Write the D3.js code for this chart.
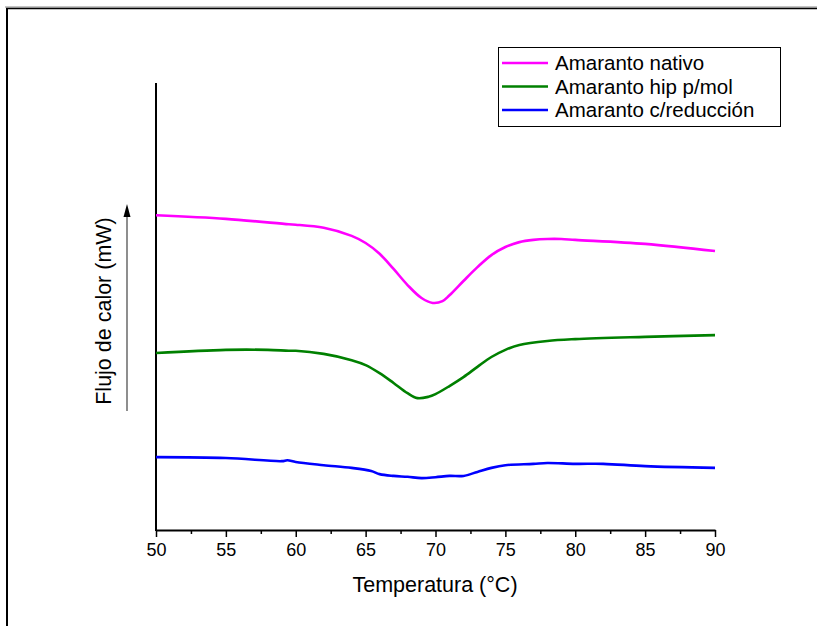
<!DOCTYPE html>
<html>
<head>
<meta charset="utf-8">
<script src="https://cdn.jsdelivr.net/npm/d3@7"></script>
<style>
    body { margin: 0; background: #fff; }
    svg { display: block; font-family: "Liberation Sans", Arial, sans-serif; }
</style>
</head>
<body>
<svg id="chart" width="817" height="626"></svg>
<script>
// DSC curves, heat flow in arbitrary units (offset per sample)
const temps = [50, 55, 59.5, 60, 62, 64, 65, 66, 67, 68, 69, 69.8, 70.5, 71, 72, 73, 74, 75, 76, 77, 78, 79, 80, 85, 90];
const nativo = [7.04, 6.96, 6.84, 6.83, 6.76, 6.58, 6.42, 6.18, 5.84, 5.48, 5.19, 5.08, 5.12, 5.25, 5.57, 5.88, 6.15, 6.33, 6.44, 6.49, 6.51, 6.51, 6.49, 6.40, 6.24];

const tempsHip = [50, 55, 58, 59.5, 60, 62, 64, 65, 66, 67, 68, 68.7, 69.5, 70, 71, 72, 73, 74, 75, 76, 78, 80, 85, 90];
const hipMol = [3.96, 4.03, 4.03, 4.01, 4.01, 3.94, 3.80, 3.69, 3.51, 3.29, 3.06, 2.95, 2.98, 3.04, 3.22, 3.42, 3.65, 3.87, 4.03, 4.14, 4.23, 4.27, 4.32, 4.36];

const tempsRed = [50, 55, 59, 59.4, 60, 62, 64, 65.4, 66, 67, 68, 69, 70, 71, 72, 73, 74, 75, 77, 78, 80, 82, 85, 90];
const reduccion = [1.63, 1.61, 1.54, 1.56, 1.52, 1.45, 1.39, 1.32, 1.25, 1.21, 1.19, 1.16, 1.18, 1.21, 1.21, 1.30, 1.39, 1.45, 1.48, 1.50, 1.48, 1.48, 1.43, 1.39];

const xTicks = [50, 55, 60, 65, 70, 75, 80, 85, 90];
const seriesNames = ["Amaranto nativo", "Amaranto hip p/mol", "Amaranto c/reducción"];
const seriesColors = ["#ff00ff", "#008000", "#0000ff"];

const svg = d3.select('#chart');

// outer frame (top and left edges only)
svg.append('line').attr('x1', 5).attr('x2', 817).attr('y1', 7).attr('y2', 7)
    .attr('stroke', '#888').attr('stroke-width', 1);
svg.append('line').attr('x1', 6).attr('x2', 817).attr('y1', 8.5).attr('y2', 8.5)
    .attr('stroke', '#000').attr('stroke-width', 1.5);
svg.append('line').attr('x1', 7).attr('x2', 7).attr('y1', 8).attr('y2', 626)
    .attr('stroke', '#000').attr('stroke-width', 2);

const x = d3.scaleLinear().domain([50, 90]).range([156, 715]);
const y = d3.scaleLinear().domain([0, 10]).range([530, 83]);

// x axis
const xAxis = d3.axisBottom(x)
    .tickValues(d3.range(50, 90.1, 2.5))
    .tickSize(0)
    .tickFormat(d => xTicks.includes(d) ? d : '');
const gx = svg.append('g').attr('transform', 'translate(0,530)').call(xAxis);
gx.select('.domain').attr('stroke', '#000').attr('stroke-width', 2);
gx.selectAll('.tick line')
    .attr('y2', d => xTicks.includes(d) ? 7 : 4)
    .attr('stroke', '#000').attr('stroke-width', 1.5);
gx.selectAll('.tick text')
    .attr('y', 13)
    .attr('font-size', 18)
    .attr('font-family', '"Liberation Sans", Arial, sans-serif')
    .attr('fill', '#000');

// y axis line
svg.append('line')
    .attr('x1', 156).attr('x2', 156)
    .attr('y1', y.range()[1]).attr('y2', 531)
    .attr('stroke', '#000').attr('stroke-width', 2);

// axis titles
svg.append('text')
    .attr('x', 435).attr('y', 592)
    .attr('text-anchor', 'middle')
    .attr('font-size', 21.5)
    .text('Temperatura (°C)');

svg.append('text')
    .attr('transform', 'translate(111,311) rotate(-90)')
    .attr('text-anchor', 'middle')
    .attr('font-size', 21.5)
    .text('Flujo de calor (mW)');

// arrow beside y title
svg.append('line')
    .attr('x1', 127).attr('x2', 127).attr('y1', 411).attr('y2', 212)
    .attr('stroke', '#444').attr('stroke-width', 1.2);
svg.append('path')
    .attr('d', 'M127,204 L130.5,217 L123.5,217 Z')
    .attr('fill', '#000');

// curves
const data = [
    { xs: temps, ys: nativo },
    { xs: tempsHip, ys: hipMol },
    { xs: tempsRed, ys: reduccion },
];

const line = d3.line()
    .x(d => x(d[0]))
    .y(d => y(d[1]))
    .curve(d3.curveCatmullRom.alpha(0.5));

data.forEach((s, i) => {
    svg.append('path')
        .datum(s.xs.map((t, j) => [t, s.ys[j]]))
        .attr('fill', 'none')
        .attr('stroke', seriesColors[i])
        .attr('stroke-width', 2.6)
        .attr('d', line);
});

// legend
const legend = svg.append('g').attr('transform', 'translate(498,47)');
legend.append('rect')
    .attr('x', 0.5).attr('y', 0.5)
    .attr('width', 282).attr('height', 79)
    .attr('fill', '#fff').attr('stroke', '#000').attr('stroke-width', 1);

seriesNames.forEach((name, i) => {
    const cy = 16 + i * 23.5;
    legend.append('line')
        .attr('x1', 4).attr('x2', 50).attr('y1', cy).attr('y2', cy)
        .attr('stroke', seriesColors[i]).attr('stroke-width', 2.6);
    legend.append('text')
        .attr('x', 57).attr('y', cy + 7)
        .attr('font-size', 20.5)
        .text(name);
});
</script>
</body>
</html>
